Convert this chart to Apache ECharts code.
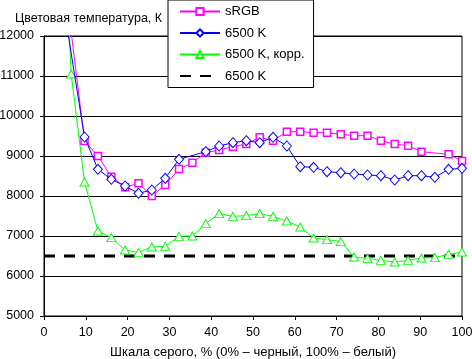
<!DOCTYPE html>
<html>
<head>
<meta charset="utf-8">
<script src="https://cdn.jsdelivr.net/npm/echarts@6/dist/echarts.min.js"></script>
<style>
html,body{margin:0;padding:0;background:#fff;}
#chart{width:472px;height:359px;}
</style>
</head>
<body>
<div id="chart"></div>
<script>
// Gray level, %
var grayLevels = [3.2, 6.5, 9.7, 12.9, 16.1, 19.4, 22.6, 25.8, 29.0, 32.3, 35.5, 38.7, 41.9, 45.2, 48.4, 51.6, 54.8, 58.1, 61.3, 64.5, 67.7, 71.0, 74.2, 77.4, 80.6, 83.9, 87.1, 90.3, 93.5, 96.8, 100];
var srgbTemp = [16000, 12100, 9375, 9000, 8483, 8217, 8317, 8000, 8275, 8675, 8833, 9083, 9150, 9233, 9300, 9467, 9383, 9608, 9608, 9583, 9583, 9542, 9508, 9508, 9383, 9300, 9258, 9108, null, 9042, 8875];
var k6500Temp = [13725, null, 9475, 8667, 8417, 8250, 8067, 8150, 8442, 8917, null, 9108, 9250, 9333, 9383, 9333, 9467, 9250, 8733, 8717, 8608, 8583, 8550, 8525, 8508, 8400, 8508, 8508, 8467, 8667, 8692];
var k6500CorrTemp = [19000, 11050, 8350, 7125, 6960, 6650, 6590, 6725, 6740, 6990, 7000, 7310, 7560, 7490, 7510, 7560, 7490, 7375, 7225, 6950, 6910, 6860, 6475, 6440, 6390, 6350, 6390, 6450, 6460, 6540, 6600];
var refTemp = 6500;
var refRange = [0, 100];
var seriesNames = ['sRGB', '6500 K', '6500 K, корр.', '6500 K'];
var xTicks = {min: 0, max: 100, step: 10};
var yTicks = {min: 5000, max: 12000, step: 1000};
var titleText = 'Цветовая температура, К';
var xAxisTitle = 'Шкала серого, % (0% – черный, 100% – белый)';

function pairs(xs, ys) {
  return xs.map(function (x, i) { return [x, ys[i]]; });
}
var FONT = '"Liberation Sans", Arial, sans-serif';

var chart = echarts.init(document.getElementById('chart'), null, {renderer: 'canvas'});
chart.setOption({
  animation: false,
  backgroundColor: '#fff',
  textStyle: {fontFamily: FONT, color: '#000'},
  title: {
    text: titleText, left: 10, top: 7,
    textStyle: {fontFamily: FONT, fontSize: 12.5, fontWeight: 'normal', color: '#000'}
  },
  grid: {left: 44, right: 10, top: 36, bottom: 43, containLabel: false, outerBoundsMode: 'none',
         show: true, borderColor: '#000', borderWidth: 1, backgroundColor: 'transparent'},
  legend: {
    orient: 'vertical', left: 168, top: 0,
    backgroundColor: '#fff', borderColor: '#000', borderWidth: 1,
    padding: [5, 9, 5, 11],
    itemWidth: 40, itemHeight: 9, itemGap: 8.5,
    textStyle: {fontFamily: FONT, fontSize: 13, color: '#000'},
    data: [
      {name: seriesNames[0]},
      {name: seriesNames[1]},
      {name: seriesNames[2]},
      {name: seriesNames[3] + ' ', itemStyle: {color: 'rgba(0,0,0,0)', borderColor: 'rgba(0,0,0,0)', borderWidth: 0}}
    ],
    z: 10
  },
  xAxis: {
    type: 'value', min: xTicks.min, max: xTicks.max, interval: xTicks.step,
    name: xAxisTitle, nameLocation: 'middle', nameGap: 30,
    nameTextStyle: {fontFamily: FONT, fontSize: 13, color: '#000'},
    axisLine: {lineStyle: {color: '#000', width: 1}},
    axisTick: {show: true, length: 4, inside: false, lineStyle: {color: '#000'}},
    axisLabel: {fontFamily: FONT, fontSize: 12.5, color: '#000', margin: 10},
    splitLine: {show: false}
  },
  yAxis: {
    type: 'value', min: yTicks.min, max: yTicks.max, interval: yTicks.step,
    axisLine: {show: true, lineStyle: {color: '#000', width: 1}},
    axisTick: {show: true, length: 4, lineStyle: {color: '#000'}},
    axisLabel: {fontFamily: FONT, fontSize: 12.5, color: '#000', margin: 10,
                formatter: function (v) { return String(v); }},
    splitLine: {show: true, lineStyle: {color: '#000', width: 1}}
  },
  series: [
    {
      name: seriesNames[0], type: 'line', data: pairs(grayLevels, srgbTemp),
      connectNulls: true, symbol: 'rect', symbolSize: 7, showAllSymbol: true,
      lineStyle: {color: '#ff00ff', width: 1},
      itemStyle: {color: '#fff', borderColor: '#ff00ff', borderWidth: 1.5},
      z: 3
    },
    {
      name: seriesNames[1], type: 'line', data: pairs(grayLevels, k6500Temp),
      connectNulls: true, symbol: 'diamond', symbolSize: [9, 10], showAllSymbol: true,
      lineStyle: {color: '#0000ff', width: 1},
      itemStyle: {color: '#fff', borderColor: '#0000ff', borderWidth: 1},
      z: 4
    },
    {
      name: seriesNames[2], type: 'line', data: pairs(grayLevels, k6500CorrTemp),
      connectNulls: true, symbol: 'triangle', symbolSize: [9, 8], showAllSymbol: true,
      lineStyle: {color: '#00ff00', width: 1},
      itemStyle: {color: '#fff', borderColor: '#00ff00', borderWidth: 1},
      z: 3
    },
    {
      name: seriesNames[3] + ' ', type: 'line',
      data: pairs(refRange, refRange.map(function () { return refTemp; })),
      symbol: 'none',
      lineStyle: {color: '#000', width: 3, type: [11, 9]},
      itemStyle: {color: '#000'},
      z: 2
    }
  ]
});
</script>
</body>
</html>
